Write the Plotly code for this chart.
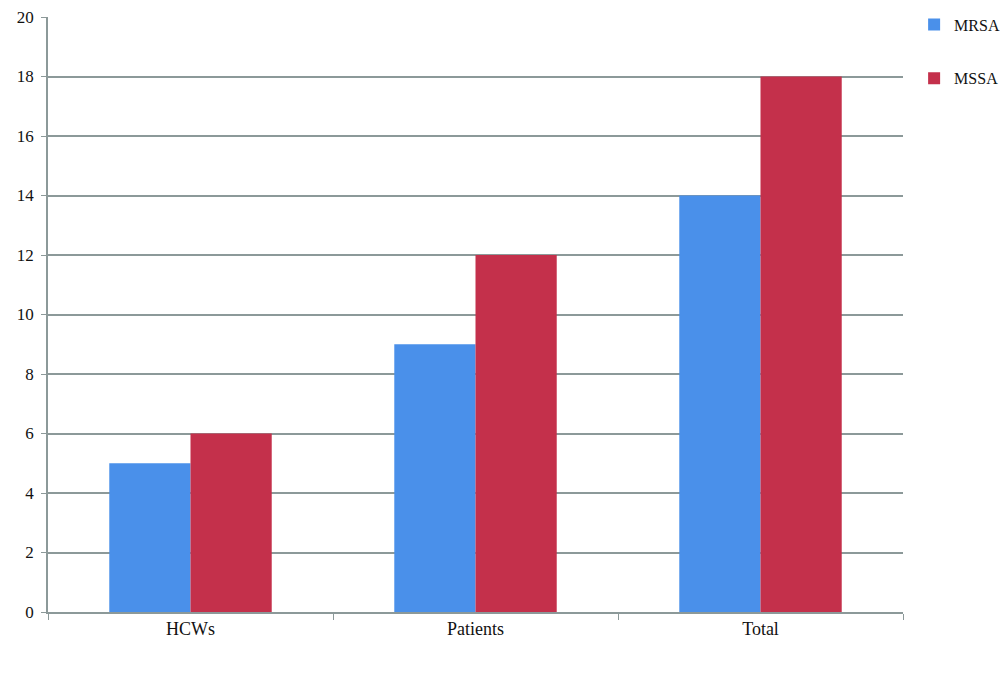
import plotly.graph_objects as go

categories = ["HCWs", "Patients", "Total"]
mrsa = [5, 9, 14]
mssa = [6, 12, 18]
yticks = [0, 2, 4, 6, 8, 10, 12, 14, 16, 18, 20]

grid = "#8c9999"
fig = go.Figure()
fig.add_trace(go.Bar(name="MRSA", x=categories, y=mrsa, marker_color="#4a90ea",
                     marker_line_width=0, legendgroup="a"))
fig.add_trace(go.Bar(name="MSSA", x=categories, y=mssa, marker_color="#c4304b",
                     marker_line_width=0, legendgroup="b"))

fig.update_layout(
    width=1000, height=680,
    margin=dict(l=48, r=97, t=17, b=68, autoexpand=False),
    paper_bgcolor="white", plot_bgcolor="white",
    barmode="group", bargap=0.43, bargroupgap=0,
    font=dict(family="Liberation Serif, DejaVu Serif, serif", size=17, color="#111"),
    legend=dict(x=1.013, y=1.016, xanchor="left", yanchor="top",
                font=dict(size=16), tracegroupgap=30, traceorder="grouped",
                itemwidth=30),
    showlegend=True,
)
fig.update_yaxes(range=[0, 20], tickvals=yticks, showgrid=True, gridcolor=grid,
                 gridwidth=1.5, showline=True, linecolor=grid, linewidth=1.5,
                 ticks="outside", ticklen=5, tickcolor=grid, zeroline=False,
                 tickfont=dict(size=17), ticklabelstandoff=4)
fig.update_xaxes(showline=True, linecolor=grid, linewidth=1.5, ticks="outside",
                 tickson="boundaries", ticklen=6, tickcolor=grid,
                 tickfont=dict(size=18))

fig.write_html("out.html", config={"displayModeBar": False},
               post_script="document.body.style.margin='0';")
